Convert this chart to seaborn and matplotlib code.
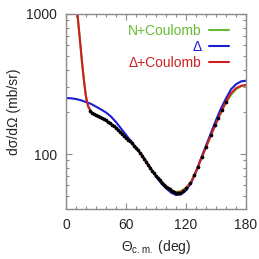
import matplotlib
matplotlib.use('Agg')
import matplotlib.pyplot as plt
import matplotlib.ticker as mticker
import pandas as pd
import seaborn as sns

# measured points
theta_data = [24, 26, 28, 30, 32, 34, 36, 38, 40, 42, 44, 46, 48, 50, 52, 54, 56, 58,
              60, 62, 64, 66, 68, 70, 72, 74, 76, 78, 80, 82, 84, 86, 88, 90, 92, 94,
              96, 98, 100, 102, 104, 106, 108, 110, 112, 114, 117, 120, 124, 128, 132,
              136, 140, 145, 149, 152, 156, 160]
xs_data = [203, 197, 192, 189, 186, 184, 181, 177, 174, 170, 166, 162, 158, 154, 149, 144,
           139, 134, 130, 126, 123, 119, 115, 110, 106, 102, 97, 92, 88, 84, 80, 76, 73, 70,
           67, 65, 62, 60, 58.5, 57, 56, 54.5, 53.5, 53, 52.6, 53, 54.4, 57, 62, 71, 81,
           95, 112, 137, 161, 181, 206, 235]

# model curves
theta_c = [10, 12, 14, 16, 18, 20, 22, 25, 30, 35, 40, 45, 50, 55, 60, 65, 70, 75, 80,
           85, 90, 95, 100, 105, 110, 115, 120, 125, 130, 135, 140, 145, 150, 155, 160,
           165, 170, 175, 180]
xs_coul = [1350, 900, 640, 450, 330, 255, 220, 200, 188, 182, 173, 164, 154, 142, 130,
           121, 110, 100, 88, 78, 70, 64, 59, 55, 53.5, 54.5, 57.5, 63, 75, 92, 112, 137,
           165, 198, 232, 265, 290, 305, 310]
xs_dcoul = [1350, 900, 640, 450, 330, 255, 220, 200, 188, 182, 173, 164, 154, 142, 130,
            121, 110, 100, 88, 78, 70, 64, 59, 55, 53, 53.5, 57, 63, 75, 92, 112, 137,
            166, 200, 237, 272, 295, 307, 311]
theta_d = [0, 5, 10, 15, 20, 25, 30, 35, 40, 45, 50, 55, 60, 65, 70, 75, 80, 85, 90, 95,
           100, 105, 110, 115, 120, 125, 130, 135, 140, 145, 150, 155, 160, 165, 170, 175,
           180]
xs_delta = [251, 250, 247, 242, 235, 228, 218, 208, 198, 185, 169, 152, 137, 123, 111,
            100, 89, 78, 69, 62, 57, 53, 51, 51.5, 55, 62, 75, 93, 115, 142, 175, 212,
            250, 290, 315, 330, 334]

sns.set_style('ticks')
plt.rcParams['font.family'] = ['Liberation Sans', 'DejaVu Sans']
plt.rcParams['mathtext.fontset'] = 'custom'
plt.rcParams['mathtext.rm'] = 'Liberation Sans'
plt.rcParams['mathtext.it'] = 'Liberation Sans:italic'

fig = plt.figure(figsize=(2.59, 2.59), dpi=100)
ax = fig.add_axes([0.255, 0.193, 0.695, 0.753])

sns.lineplot(x=theta_c, y=xs_coul, color='#66bb33', lw=1.5, label='N+Coulomb', ax=ax, sort=False)
sns.lineplot(x=theta_d, y=xs_delta, color='#1c1cd0', lw=1.5, label='Δ', ax=ax, sort=False)
sns.lineplot(x=theta_c, y=xs_dcoul, color='#cc2020', lw=1.5, label='Δ+Coulomb', ax=ax, sort=False)
sns.scatterplot(x=theta_data, y=xs_data, color='black', s=7, linewidth=0, ax=ax, zorder=5)

ax.set_yscale('log')
ax.set_xlim(0, 180)
ax.set_ylim(40.5, 1000)
ax.set_xticks([0, 60, 120, 180])
ax.xaxis.set_minor_locator(mticker.MultipleLocator(10))
ax.yaxis.set_major_locator(mticker.FixedLocator([100, 1000]))
ax.yaxis.set_major_formatter(mticker.FixedFormatter(['100', '1000']))
ax.yaxis.set_minor_locator(mticker.LogLocator(subs=range(2, 10)))
ax.yaxis.set_minor_formatter(mticker.NullFormatter())

for s in ax.spines.values():
    s.set_color('#8a8a8a')
    s.set_linewidth(1.0)
ax.tick_params(which='both', direction='in', top=True, right=True, color='#8a8a8a',
               labelsize=10, width=0.8)
ax.tick_params(which='major', length=4, pad=6.5)
ax.tick_params(which='minor', length=2.5)

ax.set_xlabel(r'$\mathrm{\Theta_{c.m.}}$ (deg)', fontsize=10, labelpad=4)
ax.set_ylabel('dσ/dΩ (mb/sr)', fontsize=10, labelpad=4)

leg = ax.legend(loc='upper right', markerfirst=False, frameon=False, fontsize=10,
                labelcolor='linecolor', handlelength=1.45, handletextpad=0.55,
                labelspacing=0.15, borderaxespad=0.6, bbox_to_anchor=(0.985, 1.02))
for t in leg.get_texts():
    t.set_ha('right')

plt.savefig('out.png', dpi=100)
